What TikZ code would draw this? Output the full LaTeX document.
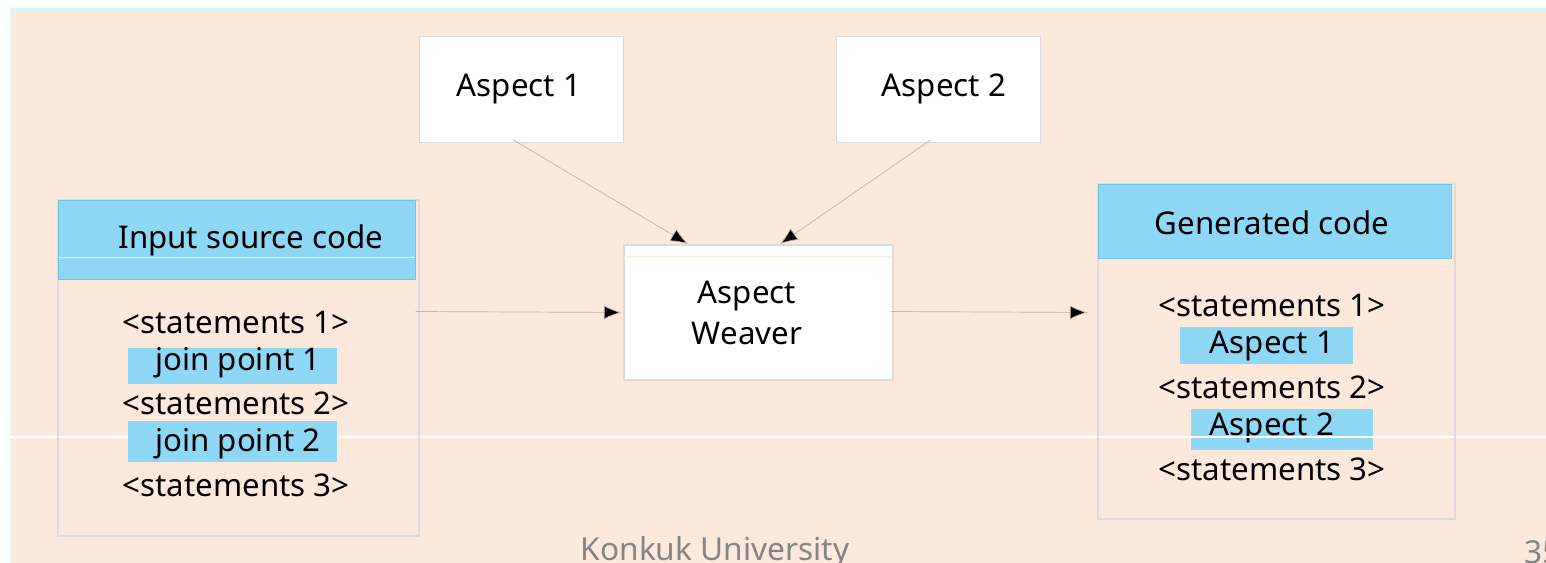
\documentclass[tikz,border=0pt]{standalone}
\usepackage{fontspec}
\setmainfont{Noto Sans}
\usetikzlibrary{arrows.meta,calc}
\definecolor{peach}{HTML}{FCE9DC}
\definecolor{cyanedge}{HTML}{D9F7F9}
\definecolor{hdrblue}{HTML}{8FD8F5}
\definecolor{hdredge}{HTML}{6CC4F0}
\definecolor{boxedge}{HTML}{DADCDC}
\definecolor{linkc}{HTML}{C4B2A6}
\definecolor{footgray}{HTML}{858585}
\tikzset{
  txt/.style={font=\fontsize{17.8}{21}\selectfont, inner sep=0pt, text=black},
  whitebox/.style={draw=boxedge, line width=0.6pt, fill=white, inner sep=0pt},
  codebox/.style={draw=boxedge, line width=0.6pt, inner sep=0pt},
  header/.style={draw=hdredge, line width=0.5pt, fill=hdrblue, inner sep=0pt},
  hilite/.style={fill=hdrblue, inner sep=0pt},
  link/.style={draw=linkc, line width=0.4pt, -{Latex[length=10pt,width=8pt,fill=black]}},
}
\begin{document}
\begin{tikzpicture}[x=0.02cm,y=-0.02cm]
\useasboundingbox (0,0) rectangle (1546,563);
\clip (0,0) rectangle (1546,563);
% background
\fill[white] (0,0) rectangle (1546,563);
\fill[cyanedge] (10,8) rectangle (1546,563);
\fill[peach] (12,11) rectangle (1546,563);
\draw[white, line width=0.8pt] (10,437) -- (1546,437);

% Aspect boxes
\node[whitebox, minimum width=204*0.02cm, minimum height=106*0.02cm] (a1) at (521.5,89.5) {};
\node[txt] (a1t) at (519,89) {Aspect 1};
\node[whitebox, minimum width=204*0.02cm, minimum height=106*0.02cm] (a2) at (938.5,89.5) {};
\node[txt] (a2t) at (944,89) {Aspect 2};

% Weaver
\node[whitebox, minimum width=269*0.02cm, minimum height=135*0.02cm] (w) at (758.5,312.5) {};
\draw[peach, line width=0.6pt] ($(w.north west)+(1,12)$) -- ($(w.north east)+(-1,12)$);
\node[txt, align=center, font=\fontsize{17.8}{23.5}\selectfont] (wt) at (747,313) {Aspect\\Weaver};

% Input source code
\node[codebox, minimum width=361*0.02cm, minimum height=336*0.02cm] (in) at (238.5,368) {};
\node[header, minimum width=357*0.02cm, minimum height=79*0.02cm] (inh) at (236.5,239.5) {};
\draw[white, line width=0.4pt] (59,257) -- (414,257);
\node[txt] (inht) at (251,240) {Input source code};
\node[txt] (is1) at (236,322) {<statements 1>};
\node[hilite, minimum width=209*0.02cm, minimum height=36*0.02cm] (ij1) at (232.5,366) {};
\node[txt] (ij1t) at (238,363) {join point 1};
\node[txt] (is2) at (236,403) {<statements 2>};
\node[hilite, minimum width=209*0.02cm, minimum height=41*0.02cm] (ij2) at (232.5,441.5) {};
\node[txt] (ij2t) at (238,444) {join point 2};
\node[txt] (is3) at (236,485) {<statements 3>};

% Generated code
\node[codebox, minimum width=357*0.02cm, minimum height=335*0.02cm] (gen) at (1276.5,351.5) {};
\node[header, minimum width=353*0.02cm, minimum height=74*0.02cm] (genh) at (1274.5,221) {};
\node[txt] (genht) at (1272,223) {Generated code};
\node[txt] (gs1) at (1272,305) {<statements 1>};
\node[hilite, minimum width=173*0.02cm, minimum height=37*0.02cm] (ga1) at (1266.5,345.5) {};
\node[txt] (ga1t) at (1272,346) {Aspect 1};
\node[txt] (gs2) at (1272,387) {<statements 2>};
\node[hilite, minimum width=182*0.02cm, minimum height=41*0.02cm] (ga2) at (1282,429.5) {};
\node[txt] (ga2t) at (1272,428) {Aspect 2};
\node[txt] (gs3) at (1272,469) {<statements 3>};
\draw[white, line width=0.8pt] (1191,437) -- (1373,437);

% connectors
\coordinate (w1) at (688,244);
\coordinate (w2) at (780,244);
\draw[link] ($(a1.south)+(-8,-3)$) -- (w1);
\draw[link] ($(a2.south)+(-8,-3)$) -- (w2);
\draw[link] ($(w.west -| in.east)+(-4,-1)$) -- ($(w.west)+(-2,0)$);
\draw[link] ($(w.east)+(-3,-1)$) -- ($(w.east -| gen.west)+(-10,0)$);

% footer
\node[txt, text=footgray, font=\fontsize{18}{20}\selectfont] (foot) at (715,552) {Konkuk University};
\node[txt, text=footgray, font=\fontsize{18}{20}\selectfont, anchor=west] (pg) at (1524,552) {35};
\end{tikzpicture}
\end{document}
